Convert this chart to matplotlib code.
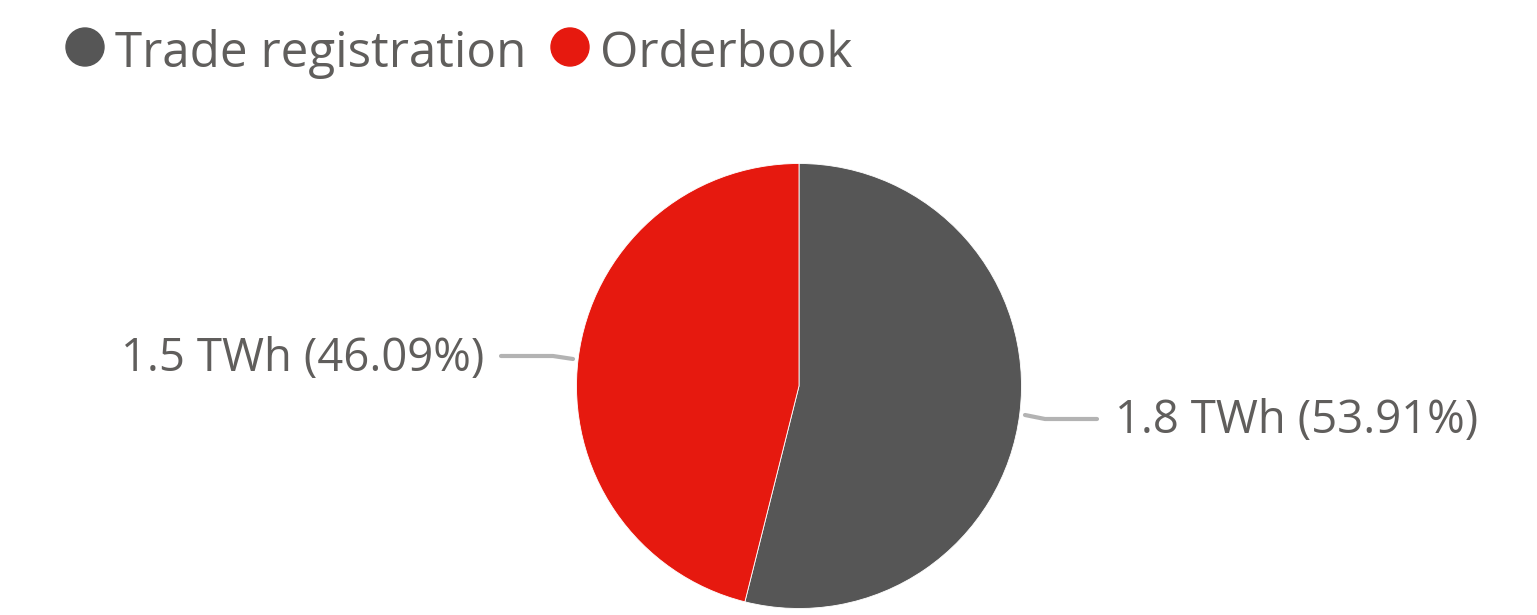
import matplotlib
matplotlib.use("Agg")
import matplotlib.pyplot as plt
from matplotlib.patches import Circle

# Data
categories = ["Trade registration", "Orderbook"]
volume_twh = [1.8, 1.5]
share_pct = [53.91, 46.09]
colors = ["#565656", "#E6190F"]

W, H = 1537, 615
fig = plt.figure(figsize=(W / 100, H / 100), dpi=100)
ax = fig.add_axes([0, 0, 1, 1])

font = "Open Sans"
text_color = "#605E5C"

cx, cy, r = 799, H - 386, 222.5
ax.pie(share_pct, colors=colors, startangle=90, counterclock=False,
       center=(cx, cy), radius=r, frame=True,
       wedgeprops=dict(linewidth=0.6, edgecolor="white"))
ax.set_xlim(0, W)
ax.set_ylim(0, H)
ax.set_aspect("equal")
ax.axis("off")

# Leader lines and data labels
line_kw = dict(color="#B3B3B3", lw=3, solid_capstyle="round")
ax.plot([1025, 1045, 1097], [H - 415, H - 419, H - 419], **line_kw)
ax.plot([573, 553, 501], [H - 359, H - 356, H - 356], **line_kw)

lbl = [f"{v} TWh ({p:.2f}%)" for v, p in zip(volume_twh, share_pct)]
ax.text(1115, H - 421, lbl[0], fontsize=32.8, family=font, color=text_color,
        ha="left", va="center")
ax.text(484, H - 359, lbl[1], fontsize=32.8, family=font, color=text_color,
        ha="right", va="center")

# Legend
legend_x = [85, 570]
for x, c, name in zip(legend_x, colors, categories):
    ax.add_patch(Circle((x, H - 47), 19, color=c))
    ax.text(x + 30, H - 67, name, fontsize=35.6, family=font, color=text_color,
            ha="left", va="baseline")

fig.savefig("out.png", dpi=100)
